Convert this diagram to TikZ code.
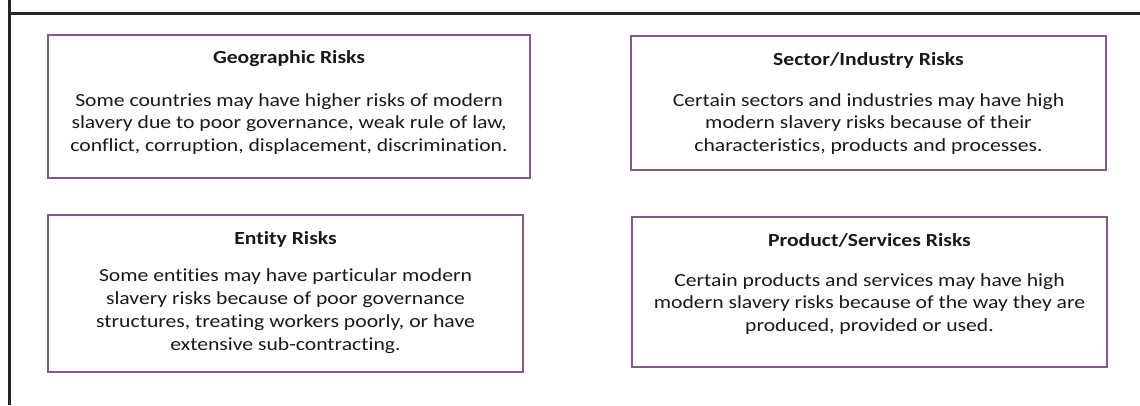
\documentclass[tikz,border=0pt]{standalone}
\usepackage{fontspec}
\setmainfont{Carlito}[FakeStretch=1.17,Ligatures=NoCommon]
\usepackage{tikz}
\usetikzlibrary{calc,positioning}
\definecolor{boxline}{RGB}{122,96,126}
\tikzset{
  riskbox/.style={draw=boxline,line width=2.2pt,inner sep=0pt},
  risktitle/.style={font=\fontsize{18.5}{22}\selectfont\bfseries,text=black!90,inner sep=0pt},
  risktext/.style={font=\fontsize{18.5}{22.8}\selectfont,text=black!90,align=center,inner sep=0pt}
}

\begin{document}
\begin{tikzpicture}[x=1pt,y=1pt]
\useasboundingbox (0,0) rectangle (1140,405);
% outer frame
\draw [line width=3pt,black!85] (9,405) -- (9,391) -- (1140,391);
\draw [line width=3pt,black!85] (9,391) -- (9,0);
% boxes
\node (geo) [riskbox,minimum width=482,minimum height=143] at (289,298.5) {};
\node (sector) [riskbox,minimum width=475,minimum height=134] at (868.5,302) {};
\node (entity) [riskbox,minimum width=475,minimum height=157] at (285.5,111.5) {};
\node (product) [riskbox,minimum width=475,minimum height=150] at (869.5,113) {};
% titles
\node (geotitle) [risktitle] at ($(geo.north)+(0,-25)$) {Geographic Risks};
\node (sectortitle) [risktitle] at ($(sector.north)+(0,-26)$) {Sector/Industry Risks};
\node (entitytitle) [risktitle] at ($(entity.north)+(0,-26)$) {Entity Risks};
\node (producttitle) [risktitle] at ($(product.north)+(0,-25)$) {Product/Services Risks};
% texts
\node (geotext) [risktext] at (289,281) {Some countries may have higher risks of modern\\
slavery due to poor governance, weak rule of law,\\
conflict, corruption, displacement, discrimination.};
\node (sectortext) [risktext] at (868.5,281) {Certain sectors and industries may have high\\
modern slavery risks because of their\\
characteristics, products and processes.};
\node (entitytext) [risktext] at (285.5,94) {Some entities may have particular modern\\
slavery risks because of poor governance\\
structures, treating workers poorly, or have\\
extensive sub-contracting.};
\node (producttext) [risktext] at (869.5,101) {Certain products and services may have high\\
modern slavery risks because of the way they are\\
produced, provided or used.};
\end{tikzpicture}
\end{document}
